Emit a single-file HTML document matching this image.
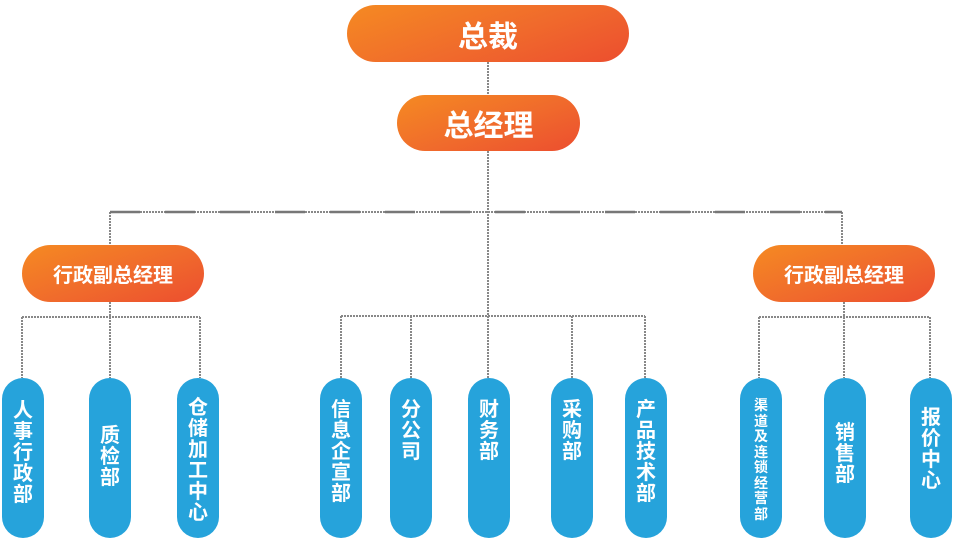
<!DOCTYPE html>
<html><head><meta charset="utf-8"><style>
body{margin:0;width:959px;height:546px;background:#fff;position:relative;overflow:hidden;font-family:"Liberation Sans","Noto Sans CJK SC",sans-serif;}
.o{position:absolute;border-radius:30px;background:linear-gradient(160deg,#f58a22 0%,#f06a2c 55%,#ec4e2f 100%);color:#fff;font-weight:bold;display:flex;align-items:center;justify-content:center;}
.b{position:absolute;top:378px;width:42px;height:160px;border-radius:21px;background:#26a3db;color:#fff;font-weight:bold;font-size:20px;line-height:21px;text-align:center;box-sizing:border-box;padding-top:23px;}
svg{position:absolute;left:0;top:0}
</style></head><body>
<svg width="959" height="546">
<g stroke="#888" stroke-width="2" fill="none" stroke-dasharray="2,1">
<line x1="488" y1="62" x2="488" y2="95"/>
<line x1="488" y1="151" x2="488" y2="378"/>
<line x1="110" y1="212" x2="842" y2="212"/>
<line x1="110" y1="212" x2="110" y2="245"/>
<line x1="842" y1="212" x2="842" y2="245"/>
<line x1="110" y1="302" x2="110" y2="378"/>
<line x1="22" y1="317" x2="200" y2="317"/>
<line x1="22" y1="317" x2="22" y2="378"/>
<line x1="200" y1="317" x2="200" y2="378"/>
<line x1="341" y1="316" x2="645" y2="316"/>
<line x1="341" y1="316" x2="341" y2="378"/>
<line x1="411" y1="316" x2="411" y2="378"/>
<line x1="572" y1="316" x2="572" y2="378"/>
<line x1="645" y1="316" x2="645" y2="378"/>
<line x1="844" y1="302" x2="844" y2="378"/>
<line x1="759" y1="317" x2="930" y2="317"/>
<line x1="759" y1="317" x2="759" y2="378"/>
<line x1="930" y1="317" x2="930" y2="378"/>
</g>
<g stroke="#777" stroke-width="2.5"><line x1="110" y1="212" x2="842" y2="212" stroke-dasharray="30,25"/></g>
</svg>
<div class="o" style="left:347px;top:5px;width:282px;height:57px;font-size:30px;">总裁</div>
<div class="o" style="left:397px;top:95px;width:183px;height:56px;font-size:30px;">总经理</div>
<div class="o" style="left:22px;top:245px;width:182px;height:57px;font-size:20px;">行政副总经理</div>
<div class="o" style="left:753px;top:245px;width:182px;height:57px;font-size:20px;">行政副总经理</div>
<div class="b" style="left:2px;">人<br>事<br>行<br>政<br>部</div>
<div class="b" style="left:89px;padding-top:48px;">质<br>检<br>部</div>
<div class="b" style="left:177px;padding-top:20px;">仓<br>储<br>加<br>工<br>中<br>心</div>
<div class="b" style="left:320px;padding-top:22px;">信<br>息<br>企<br>宣<br>部</div>
<div class="b" style="left:390px;padding-top:22px;">分<br>公<br>司</div>
<div class="b" style="left:468px;padding-top:22px;">财<br>务<br>部</div>
<div class="b" style="left:551px;padding-top:22px;">采<br>购<br>部</div>
<div class="b" style="left:625px;padding-top:22px;">产<br>品<br>技<br>术<br>部</div>
<div class="b" style="left:740px;padding-top:20px;font-size:14px;line-height:15.5px;">渠<br>道<br>及<br>连<br>锁<br>经<br>营<br>部</div>
<div class="b" style="left:824px;padding-top:45px;">销<br>售<br>部</div>
<div class="b" style="left:910px;padding-top:30px;">报<br>价<br>中<br>心</div>
</body></html>
